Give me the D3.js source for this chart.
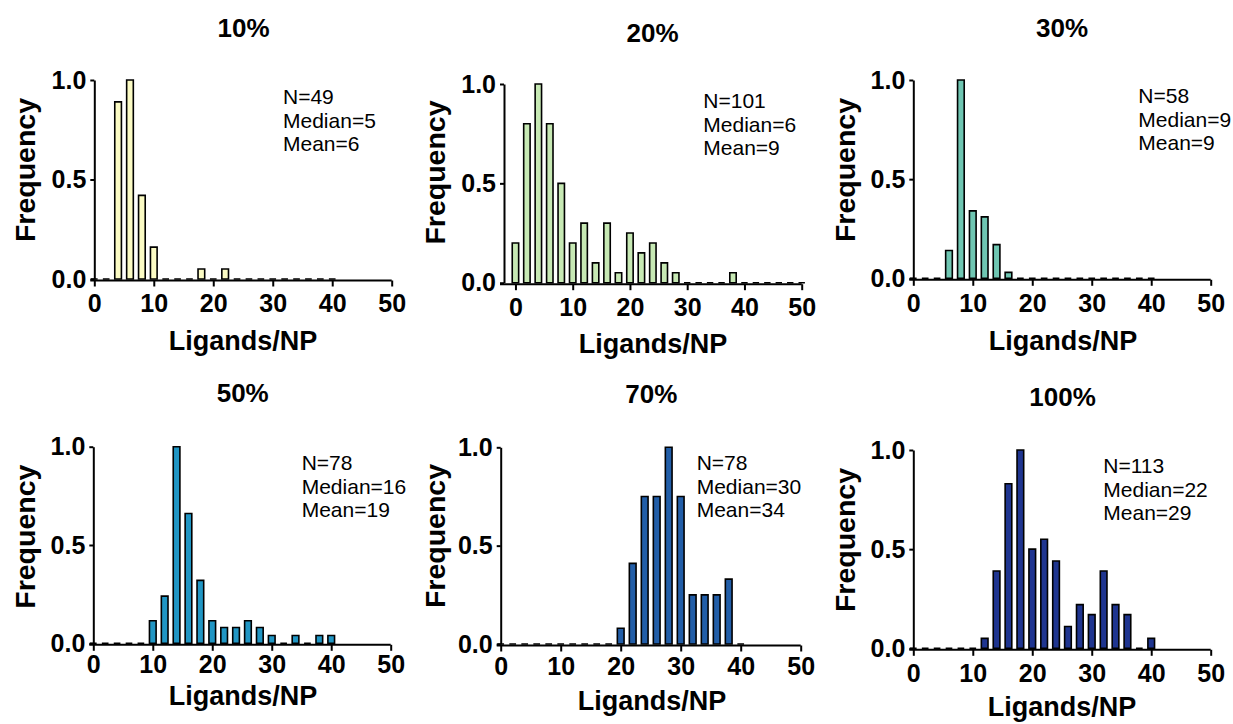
<!DOCTYPE html>
<meta charset="utf-8">
<style>
body { margin: 0; background: #fff; }
text { font-family: "Liberation Sans", Arial, sans-serif; fill: #000; }
</style>
<body>
<script src="https://cdn.jsdelivr.net/npm/d3@7"></script>
<script>

// bins (ligands per NP)
var bins40 = [0,2,4,6,8,10,12,14,16,18,20,22,24,26,28,30,32,34,36,38,40];
var bins50 = [0,2,4,6,8,10,12,14,16,18,20,22,24,26,28,30,32,34,36,38,40,42,44,46,48,50];

// normalised frequencies
var freq10  = [0,0,0.89,1.0,0.42,0.16,0,0,0,0.05,0,0.05,0,0,0,0,0,0,0,0,0];
var freq20  = [0.2,0.8,1.0,0.8,0.5,0.2,0.3,0.1,0.3,0.05,0.25,0.15,0.2,0.1,0.05,0,0,0,0,0.05,0,0,0,0,0,0];
var freq30  = [0,0,0,0.14,1.0,0.34,0.31,0.17,0.03,0,0,0,0,0,0,0,0,0,0,0,0];
var freq50  = [0,0,0,0,0,0.115,0.24,1.0,0.66,0.32,0.115,0.08,0.08,0.115,0.08,0.04,0,0.04,0,0.04,0.04];
var freq70  = [0,0,0,0,0,0,0,0,0,0,0.08,0.41,0.75,0.75,1.0,0.75,0.25,0.25,0.25,0.33,0];
var freq100 = [0,0,0,0,0,0,0.05,0.39,0.83,1.0,0.5,0.55,0.44,0.11,0.22,0.17,0.39,0.22,0.17,0,0.05];

var titles  = ["10%","20%","30%","50%","70%","100%"];
var nVals   = [49,101,58,78,78,113];
var medians = [5,6,9,16,30,22];
var means   = [6,9,9,19,34,29];
var colors  = ["#fbfbc4","#c7e9b4","#6fc6b2","#2196c4","#225ea8","#1f3590"];
var xTicks  = [0,10,20,30,40,50];
var yTicks  = [0,0.5,1];

var series = [
  {bins: bins40, freq: freq10},
  {bins: bins50, freq: freq20},
  {bins: bins40, freq: freq30},
  {bins: bins40, freq: freq50},
  {bins: bins40, freq: freq70},
  {bins: bins40, freq: freq100}
];

// panel placement (the panels in the figure are not quite aligned)
var layout = [
  {x0: 94.3,  x1: 391.7,  xmin: 0,  y1: 80,    y0: 279,   pad: 8, tx: 243.5,  ty: 37,    fx: 34.5,  fy: 170,   ax: 283,    ay: 104, lx: 243,  ly: 350},
  {x0: 504,   x1: 801.7,  xmin: -2, y1: 84,    y0: 282.7, pad: 8, tx: 652.5,  ty: 41.7,  fx: 444.5, fy: 172.5, ax: 703.3,  ay: 108, lx: 653,  ly: 353},
  {x0: 913.3, x1: 1210.7, xmin: 0,  y1: 80,    y0: 278.3, pad: 8, tx: 1062,   ty: 37.3,  fx: 854.5, fy: 170,   ax: 1138.3, ay: 103, lx: 1063, ly: 350},
  {x0: 93.3,  x1: 390.7,  xmin: 0,  y1: 446.7, y0: 643.3, pad: 4, tx: 242.7,  ty: 401.7, fx: 34.5,  fy: 536.7, ax: 301.7,  ay: 470, lx: 243,  ly: 705},
  {x0: 500.7, x1: 800.7,  xmin: 0,  y1: 447.3, y0: 644,   pad: 6, tx: 651.3,  ty: 402.7, fx: 444.5, fy: 536,   ax: 696.7,  ay: 470, lx: 652,  ly: 710},
  {x0: 913.3, x1: 1210.7, xmin: 0,  y1: 450,   y0: 648.3, pad: 8, tx: 1062.5, ty: 406,   fx: 854.5, fy: 540,   ax: 1103.3, ay: 473, lx: 1062, ly: 716}
];

var svg = d3.select("body").append("svg")
    .attr("width", 1233)
    .attr("height", 724);

series.forEach(function(s, i) {
  var L = layout[i];
  var g = svg.append("g");

  var yAxisX = L.x0;
  var x = d3.scaleLinear().domain([L.xmin, 50]).range([L.x0, L.x1]);
  var y = d3.scaleLinear().domain([0, 1]).range([L.y0, L.y1]);
  var bw = (x(2) - x(0)) * 0.56;

  // bars (zero bins end up as short dashes on the baseline)
  g.selectAll("path.bar")
    .data(s.bins.map(function(b, k) { return {bin: b, v: s.freq[k]}; }))
    .enter().append("path")
    .attr("class", "bar")
    .attr("d", function(d) {
      var a = x(d.bin) - bw / 2, b = x(d.bin) + bw / 2;
      return "M" + a + "," + y(0) + "V" + y(d.v) + "H" + b + "V" + y(0) + "Z";
    })
    .attr("fill", colors[i])
    .attr("stroke", "#000")
    .attr("stroke-width", 1.6);

  // x axis
  var xa = g.append("g")
    .attr("transform", "translate(0," + (L.y0 + 1.5) + ")")
    .call(d3.axisBottom(x).tickValues(xTicks).tickSize(6).tickSizeOuter(0).tickPadding(L.pad));
  xa.select(".domain").attr("d", "M" + (yAxisX - 4) + ",0H" + L.x1);

  // y axis
  var ya = g.append("g")
    .attr("transform", "translate(" + yAxisX + ",0)")
    .call(d3.axisLeft(y).tickValues(yTicks).tickFormat(d3.format(".1f")).tickSize(4).tickSizeOuter(0).tickPadding(4));

  [xa, ya].forEach(function(ax) {
    ax.selectAll("path, line").attr("stroke", "#000").attr("stroke-width", 2);
    ax.selectAll("text")
      .style("font-size", "25px")
      .style("font-weight", "bold")
      .attr("fill", "#000");
  });

  // title
  g.append("text")
    .attr("x", L.tx).attr("y", L.ty)
    .attr("text-anchor", "middle")
    .style("font-size", "26px").style("font-weight", "bold")
    .text(titles[i]);

  // axis titles
  g.append("text")
    .attr("transform", "translate(" + L.fx + "," + L.fy + ") rotate(-90)")
    .attr("text-anchor", "middle")
    .style("font-size", "28.5px").style("font-weight", "bold")
    .text("Frequency");

  g.append("text")
    .attr("x", L.lx).attr("y", L.ly)
    .attr("text-anchor", "middle")
    .style("font-size", "27px").style("font-weight", "bold")
    .text("Ligands/NP");

  // stats
  var lines = ["N=" + nVals[i], "Median=" + medians[i], "Mean=" + means[i]];
  g.append("g").selectAll("text")
    .data(lines)
    .enter().append("text")
    .attr("x", L.ax)
    .attr("y", function(d, k) { return L.ay + k * 23.5; })
    .style("font-size", "21px")
    .text(function(d) { return d; });
});

</script>
</body>
